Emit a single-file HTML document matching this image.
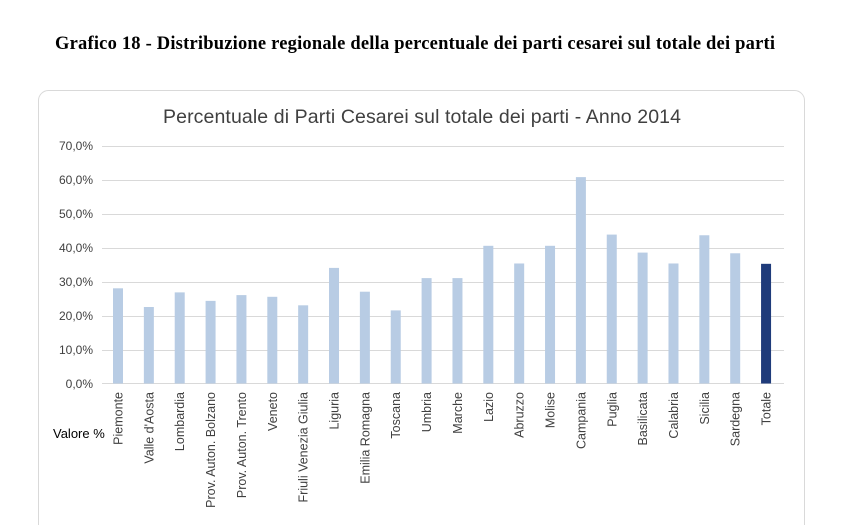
<!DOCTYPE html><html><head><style>body{margin:0;background:#fff;width:851px;height:525px;overflow:hidden;font-family:"Liberation Sans",sans-serif}</style></head><body>
<svg width="851" height="525" xmlns="http://www.w3.org/2000/svg">
<text x="415" y="49" text-anchor="middle" font-family="Liberation Serif" font-weight="bold" font-size="18.5" fill="#000" textLength="720">Grafico 18 - Distribuzione regionale della percentuale dei parti cesarei sul totale dei parti</text>
<rect x="38.5" y="90.5" width="766" height="460" rx="10" fill="#fff" stroke="#d9d9d9"/>
<text x="422" y="123" text-anchor="middle" font-size="19.5" fill="#404040" textLength="518">Percentuale di Parti Cesarei sul totale dei parti - Anno 2014</text>
<g stroke="#d9d9d9" stroke-width="1">
<line x1="102" x2="784" y1="146.5" y2="146.5"/><line x1="102" x2="784" y1="180.5" y2="180.5"/><line x1="102" x2="784" y1="214.5" y2="214.5"/><line x1="102" x2="784" y1="248.5" y2="248.5"/><line x1="102" x2="784" y1="282.5" y2="282.5"/><line x1="102" x2="784" y1="316.5" y2="316.5"/><line x1="102" x2="784" y1="350.5" y2="350.5"/><line x1="102" x2="784" y1="383.5" y2="383.5"/>
</g>
<g font-size="12" fill="#404040" text-anchor="end">
<text x="93" y="150">70,0%</text><text x="93" y="184">60,0%</text><text x="93" y="218">50,0%</text><text x="93" y="252">40,0%</text><text x="93" y="286">30,0%</text><text x="93" y="320">20,0%</text><text x="93" y="354">10,0%</text><text x="93" y="388">0,0%</text>
</g>
<text x="53" y="438" font-size="13" fill="#000">Valore %</text>
<g id="bars"></g>
<g id="labels" font-size="12.5" fill="#404040" text-anchor="end"></g>
</svg>
<script>
var d=[["Piemonte",28],["Valle d'Aosta",22.5],["Lombardia",26.8],["Prov. Auton. Bolzano",24.3],["Prov. Auton. Trento",26],["Veneto",25.5],["Friuli Venezia Giulia",23],["Liguria",34],["Emilia Romagna",27],["Toscana",21.5],["Umbria",31],["Marche",31],["Lazio",40.5],["Abruzzo",35.3],["Molise",40.5],["Campania",60.7],["Puglia",43.8],["Basilicata",38.5],["Calabria",35.3],["Sicilia",43.6],["Sardegna",38.3],["Totale",35.2]];
var b=document.getElementById('bars'),l=document.getElementById('labels'),ns="http://www.w3.org/2000/svg";
d.forEach(function(e,i){var cx=118+i*30.86,h=e[1]*3.4;
var r=document.createElementNS(ns,'rect');r.setAttribute('x',cx-5);r.setAttribute('y',383.5-h);r.setAttribute('width',10);r.setAttribute('height',h);r.setAttribute('fill',i==21?'#1f3b7a':'#b8cce4');b.appendChild(r);
var t=document.createElementNS(ns,'text');t.setAttribute('transform','translate('+(cx+4.5)+',392) rotate(-90)');t.textContent=e[0];l.appendChild(t);});
</script>
</body></html>
